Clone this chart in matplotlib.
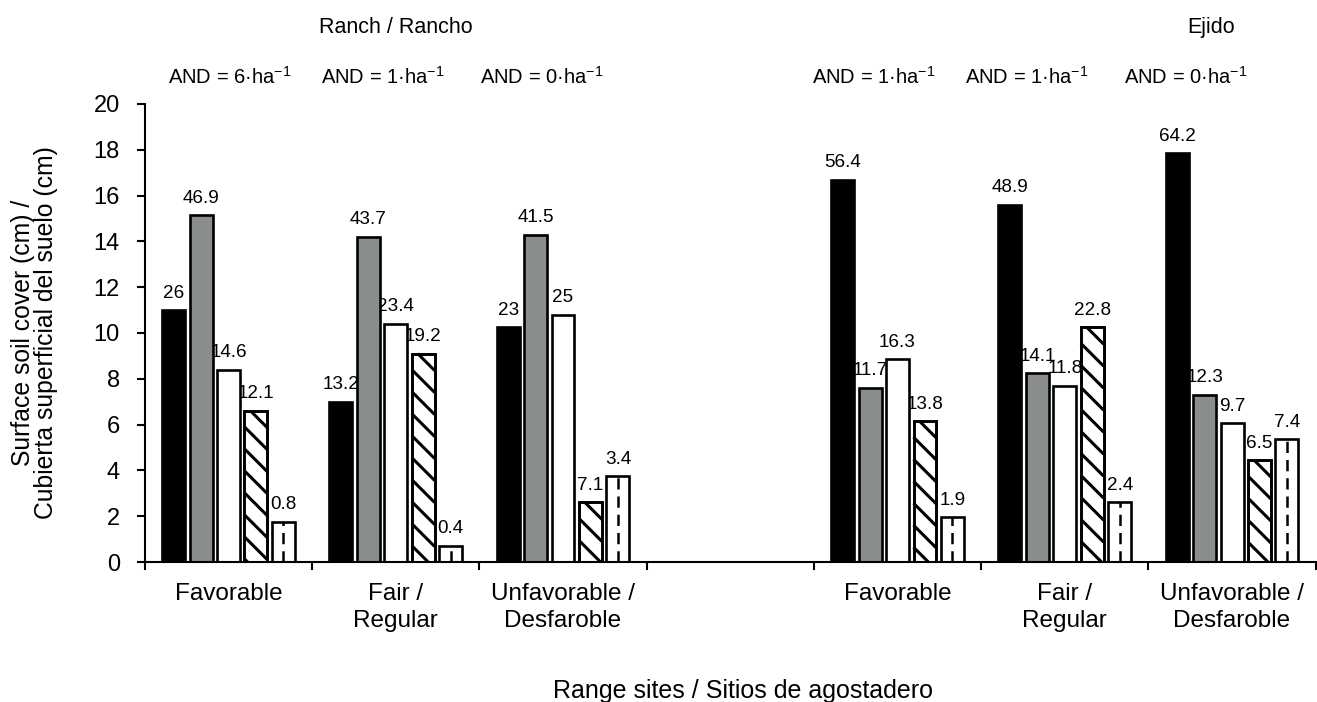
"""Surface soil cover by range site, ranch vs ejido."""
import matplotlib.pyplot as plt
import numpy as np
from matplotlib.transforms import IdentityTransform

plt.rcParams['font.family'] = ['Liberation Sans', 'DejaVu Sans']
plt.rcParams['mathtext.fontset'] = 'custom'
plt.rcParams['mathtext.rm'] = 'Liberation Sans'
plt.rcParams['mathtext.default'] = 'regular'

SITES = ['Favorable', 'Fair /\nRegular', 'Unfavorable /\nDesfaroble']
# ranch sites, an empty slot, then ejido sites
CATEGORIES = SITES + [''] + SITES
SLOTS = [0, 1, 2, 4, 5, 6]

# bar heights (cm), ranch x3 then ejido x3
BLACK = [11.0, 7.0, 10.25, 16.7, 15.6, 17.85]
GRAY = [15.15, 14.2, 14.3, 7.6, 8.25, 7.3]
WHITE = [8.4, 10.4, 10.8, 8.85, 7.7, 6.05]
HATCH = [6.6, 9.1, 2.6, 6.15, 10.25, 4.45]
DASHED = [1.75, 0.7, 3.75, 1.95, 2.6, 5.35]

# value labels printed over each bar
BLACK_LAB = ['26', '13.2', '23', '56.4', '48.9', '64.2']
GRAY_LAB = ['46.9', '43.7', '41.5', '11.7', '14.1', '12.3']
WHITE_LAB = ['14.6', '23.4', '25', '16.3', '11.8', '9.7']
HATCH_LAB = ['12.1', '19.2', '7.1', '13.8', '22.8', '6.5']
DASHED_LAB = ['0.8', '0.4', '3.4', '1.9', '2.4', '7.4']

AND_LAB = ['AND = 6·ha$^{-1}$', 'AND = 1·ha$^{-1}$', 'AND = 0·ha$^{-1}$',
           'AND = 1·ha$^{-1}$', 'AND = 1·ha$^{-1}$', 'AND = 0·ha$^{-1}$']
AND_X = [0.01, 0.92, 1.875, 3.86, 4.77, 5.72]

series = [
    (BLACK, BLACK_LAB, '#000000'),
    (GRAY, GRAY_LAB, '#898d8d'),
    (WHITE, WHITE_LAB, '#ffffff'),
    (HATCH, HATCH_LAB, '#ffffff'),
    (DASHED, DASHED_LAB, '#ffffff'),
]

fig, ax = plt.subplots(figsize=(13.17, 7.02), dpi=100)
fig.subplots_adjust(left=0.110, right=0.999, bottom=0.1994, top=0.8519)

ax.set_xlim(-0.5, 6.5)
ax.set_ylim(0, 20)

x = np.array(SLOTS, dtype=float)
step = 0.164
width = 0.137
for i, (vals, labs, fc) in enumerate(series):
    xi = x + (i - 2) * step
    bars = ax.bar(xi, vals, width, facecolor=fc, edgecolor='black',
                  linewidth=1.9, zorder=2)
    if i == 3:
        # thick diagonal stripes, computed in pixels and cut to the bar box
        spacing = 22
        for b in bars:
            (px0, py0), (px1, py1) = ax.transData.transform(
                [(b.get_x(), 0), (b.get_x() + b.get_width(), b.get_height())])
            w = px1 - px0
            for c in np.arange(py1 + 6, py0, -spacing):
                t0 = max(0.0, c - py1)
                t1 = min(w, c - py0)
                if t1 <= t0:
                    continue
                ax.plot([px0 + t0, px0 + t1], [c - t0, c - t1], color='black',
                        linewidth=2.2, solid_capstyle='butt',
                        transform=IdentityTransform(), zorder=2.5)
        ax.bar(xi, vals, width, fill=False, edgecolor='black',
               linewidth=1.9, zorder=2.8)
    if i == 4:
        ax.vlines(xi, 0, vals, colors='black', linewidth=1.8,
                  linestyles=(0, (4.5, 2.8)), zorder=3)
    for xx, v, lab in zip(xi, vals, labs):
        ax.annotate(lab, (xx, v), xytext=(0, 9), textcoords='offset points',
                    ha='center', va='baseline', fontsize=13.6, zorder=1)

ax.set_yticks(np.arange(0, 21, 2))
ax.set_xticks(np.arange(7))
ax.set_xticklabels(CATEGORIES, fontsize=17.5)
for t in ax.get_xticklabels():
    t.set_linespacing(1.3)
ax.set_xticks(np.arange(-0.5, 7, 1), minor=True)
ax.tick_params(axis='x', which='major', length=0, pad=15)
ax.tick_params(axis='x', which='minor', length=6, width=1.5, direction='out')
ax.tick_params(axis='y', length=6, width=1.5, direction='out', pad=12,
               labelsize=17)
for side in ['top', 'right']:
    ax.spines[side].set_visible(False)
for side in ['left', 'bottom']:
    ax.spines[side].set_linewidth(1.5)

ax.set_ylabel('Surface soil cover (cm) /\nCubierta superficial del suelo (cm)',
              fontsize=17.8, linespacing=0.95)
ax.yaxis.set_label_coords(-0.074, 0.5)
ax.set_xlabel('Range sites / Sitios de agostadero', fontsize=18)
ax.xaxis.set_label_coords(0.511, -0.256)

tr = ax.get_xaxis_transform()
for xx, lab in zip(AND_X, AND_LAB):
    ax.text(xx, 1.059, lab, transform=tr, ha='center', va='center',
            fontsize=14.5)
ax.text(1.0, 1.168, 'Ranch / Rancho', transform=tr, ha='center',
        va='center', fontsize=15.5)
ax.text(5.875, 1.168, 'Ejido', transform=tr, ha='center', va='center',
        fontsize=15.5)

fig.savefig('out.png')
